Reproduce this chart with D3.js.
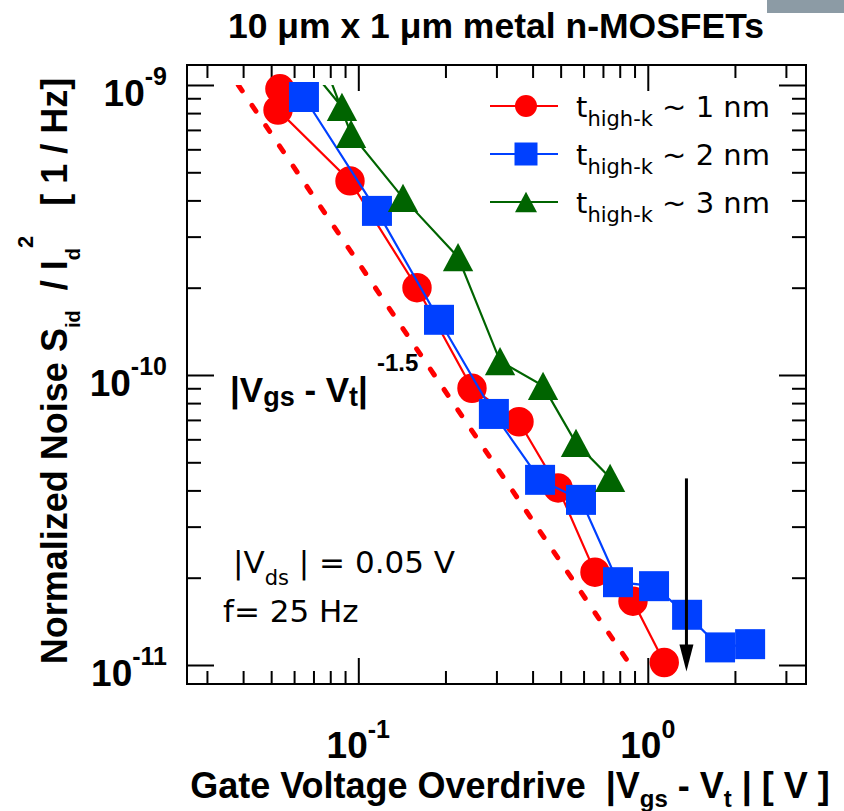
<!DOCTYPE html>
<html>
<head>
<meta charset="utf-8">
<script src="https://cdn.jsdelivr.net/npm/d3@7"></script>
<style>
  body { margin: 0; background: #fff; }
  text { white-space: pre; }
</style>
</head>
<body>
<div id="chart"></div>
<script>

// values (x = |Vgs - Vt| in V, y = Sid/Id^2 in 1/Hz)
var redX = [0.0536, 0.0528, 0.0936, 0.1595, 0.247, 0.359, 0.49, 0.657, 0.889, 1.14];
var redY = [9.7e-10, 8.2e-10, 4.67e-10, 2.0e-10, 9.0e-11, 6.9e-11, 4.08e-11, 2.09e-11, 1.66e-11, 1.02e-11];

var blueX = [0.0649, 0.116, 0.19, 0.294, 0.4245, 0.588, 0.789, 1.051, 1.367, 1.777, 2.257];
var blueY = [9.09e-10, 3.68e-10, 1.55e-10, 7.34e-11, 4.35e-11, 3.71e-11, 1.93e-11, 1.87e-11, 1.49e-11, 1.15e-11, 1.18e-11];

// two green points lie above 1e-9, only their line stubs show
var greenX = [0.0566, 0.0878, null, 0.0710, 0.0944, 0.1427, 0.2211, 0.3088, 0.4347, 0.565, 0.741];
var greenY = [1.43e-9, 8.4e-10, null, 1.43e-9, 6.78e-10, 4.08e-10, 2.55e-10, 1.117e-10, 9.17e-11, 5.83e-11, 4.42e-11];

var seriesNames = ['1 nm', '2 nm', '3 nm'];

// |Vgs - Vt|^-1.5 guide line and the arrow
var slopeX = [0.0385, 0.87];
var slopeY = [1e-9, 1e-11];
var arrowX = [1.36, 1.36];
var arrowY = [4.4e-11, 9.5e-12];

// axis ranges and ticks
var xDomain = [0.0256, 3.52];
var yDomain = [8.6e-12, 1.172e-9];
var xMajor = [0.1, 1];
var xMinor = [0.03, 0.04, 0.05, 0.06, 0.07, 0.08, 0.09, 0.2, 0.3, 0.4, 0.5, 0.6, 0.7, 0.8, 0.9, 2, 3];
var yMajor = [1e-11, 1e-10, 1e-9];
var yMinor = [2e-11, 3e-11, 4e-11, 5e-11, 6e-11, 7e-11, 8e-11, 9e-11,
              2e-10, 3e-10, 4e-10, 5e-10, 6e-10, 7e-10, 8e-10, 9e-10];
var xTickExp = ['-1', '0'];
var yTickExp = ['-11', '-10', '-9'];

var svgWidth = 844;
var svgHeight = 811;

var chartMargin = {
    top: 65,
    right: 38,
    bottom: 127,
    left: 187
};

var chartWidth = svgWidth - chartMargin.left - chartMargin.right;
var chartHeight = svgHeight - chartMargin.top - chartMargin.bottom;

var boldFont = '"Liberation Sans", Arial, Helvetica, sans-serif';
var plainFont = '"DejaVu Sans", sans-serif';

var svg = d3.select('#chart')
    .append('svg')
    .attr('width', svgWidth)
    .attr('height', svgHeight);

svg.append('rect')
    .attr('x', 767).attr('y', 0)
    .attr('width', 77).attr('height', 13)
    .attr('fill', '#8c9ba5');

var chartGroup = svg.append('g')
    .attr('transform', `translate(${chartMargin.left}, ${chartMargin.top})`);

var xScale = d3.scaleLog().domain(xDomain).range([0, chartWidth]);
var yScale = d3.scaleLog().domain(yDomain).range([chartHeight, 0]);

// clip regions
var defs = svg.append('defs');
defs.append('clipPath').attr('id', 'lineClip')
    .append('rect')
    .attr('x', 0).attr('y', yScale(1e-9))
    .attr('width', chartWidth).attr('height', chartHeight - yScale(1e-9));
defs.append('clipPath').attr('id', 'markClip')
    .append('rect')
    .attr('x', 0).attr('y', 0)
    .attr('width', chartWidth).attr('height', chartHeight);

// inward ticks on all four sides
function drawTicks(axis, values, size, shift) {
    chartGroup.append('g')
        .attr('transform', shift)
        .call(axis.tickValues(values).tickSize(-size).tickFormat(''))
        .call(g => g.select('.domain').remove())
        .selectAll('line')
        .attr('stroke', '#000')
        .attr('stroke-width', 2);
}

drawTicks(d3.axisBottom(xScale), xMajor, 26, `translate(0,${chartHeight})`);
drawTicks(d3.axisBottom(xScale), xMinor, 13, `translate(0,${chartHeight})`);
drawTicks(d3.axisTop(xScale), xMajor, 26, 'translate(0,0)');
drawTicks(d3.axisTop(xScale), xMinor, 13, 'translate(0,0)');
drawTicks(d3.axisLeft(yScale), yMajor, 27, 'translate(0,0)');
drawTicks(d3.axisLeft(yScale), yMinor, 14, 'translate(0,0)');
drawTicks(d3.axisRight(yScale), yMajor, 27, `translate(${chartWidth},0)`);
drawTicks(d3.axisRight(yScale), yMinor, 14, `translate(${chartWidth},0)`);

chartGroup.append('rect')
    .attr('width', chartWidth)
    .attr('height', chartHeight)
    .attr('fill', 'none')
    .attr('stroke', '#000')
    .attr('stroke-width', 2);

// tick labels 10^n
xMajor.forEach(function(v, i) {
    var t = chartGroup.append('text')
        .attr('x', xScale(v))
        .attr('y', chartHeight + 74)
        .attr('text-anchor', 'middle')
        .attr('font-family', boldFont)
        .attr('font-weight', 'bold')
        .attr('font-size', 37);
    t.append('tspan').text('10');
    t.append('tspan').attr('font-size', 25).attr('dy', -20).text(xTickExp[i]);
});

yMajor.forEach(function(v, i) {
    var t = chartGroup.append('text')
        .attr('x', -20)
        .attr('y', yScale(v) + 21)
        .attr('text-anchor', 'end')
        .attr('font-family', boldFont)
        .attr('font-weight', 'bold')
        .attr('font-size', 37);
    t.append('tspan').text('10');
    t.append('tspan').attr('font-size', 25).attr('dy', -21).text(yTickExp[i]);
});

// dashed power-law guide
var line = d3.line()
    .defined(d => d[1] != null)
    .x(d => xScale(d[0]))
    .y(d => yScale(d[1]));

chartGroup.append('path')
    .datum(d3.zip(slopeX, slopeY))
    .attr('clip-path', 'url(#lineClip)')
    .attr('d', line)
    .attr('fill', 'none')
    .attr('stroke', '#ff0000')
    .attr('stroke-width', 5)
    .attr('stroke-linecap', 'round')
    .attr('stroke-dasharray', '7,17.5');

// triangle centred on its bounding box
var boxTriangle = {
    draw: function(ctx, size) {
        var w = Math.sqrt(size);
        var h = w * 0.93;
        ctx.moveTo(0, -h / 2);
        ctx.lineTo(w / 2, h / 2);
        ctx.lineTo(-w / 2, h / 2);
        ctx.closePath();
    }
};

var series = [
    {x: redX, y: redY, color: '#ff0000', shape: d3.symbolCircle, size: 680, legSize: 380},
    {x: blueX, y: blueY, color: '#0040ff', shape: d3.symbolSquare, size: 900, legSize: 529},
    {x: greenX, y: greenY, color: '#006400', shape: boxTriangle, size: 920, legSize: 484}
];

series.forEach(function(s) {
    var pts = d3.zip(s.x, s.y);

    chartGroup.append('path')
        .datum(pts)
        .attr('clip-path', 'url(#lineClip)')
        .attr('d', line)
        .attr('fill', 'none')
        .attr('stroke', s.color)
        .attr('stroke-width', 2.2);

    chartGroup.append('g')
        .attr('clip-path', 'url(#markClip)')
        .selectAll('path')
        .data(pts.filter(d => d[1] != null))
        .enter()
        .append('path')
        .attr('transform', d => `translate(${xScale(d[0])},${yScale(d[1])})`)
        .attr('d', d3.symbol(s.shape, s.size))
        .attr('fill', s.color);
});

// arrow
chartGroup.append('line')
    .attr('x1', xScale(arrowX[0])).attr('y1', yScale(arrowY[0]))
    .attr('x2', xScale(arrowX[1])).attr('y2', yScale(arrowY[1]) - 20)
    .attr('stroke', '#000')
    .attr('stroke-width', 3);

var tipX = xScale(arrowX[1]);
var tipY = yScale(arrowY[1]);
chartGroup.append('path')
    .attr('d', `M${tipX},${tipY} L${tipX - 7},${tipY - 27} L${tipX + 7},${tipY - 27} Z`)
    .attr('fill', '#000');

// legend
var legend = svg.append('g').attr('transform', 'translate(490, 106)');
series.forEach(function(s, i) {
    var row = legend.append('g').attr('transform', `translate(0, ${i * 48})`);
    row.append('line')
        .attr('x1', 0).attr('x2', 68)
        .attr('stroke', s.color)
        .attr('stroke-width', 2.2);
    row.append('path')
        .attr('transform', 'translate(36, 0)')
        .attr('d', d3.symbol(s.shape, s.legSize))
        .attr('fill', s.color);
    var t = row.append('text')
        .attr('x', 86)
        .attr('y', 11)
        .attr('font-family', plainFont)
        .attr('font-size', 29);
    t.append('tspan').text('t');
    t.append('tspan').attr('font-size', 21).attr('dy', 9).text('high-k');
    t.append('tspan').attr('dy', -9).text(' ~ ' + seriesNames[i]);
});

// annotations
var ann = svg.append('text')
    .attr('x', 230).attr('y', 402)
    .attr('font-family', boldFont)
    .attr('font-weight', 'bold')
    .attr('font-size', 35);
ann.append('tspan').text('|V');
ann.append('tspan').attr('font-size', 27).attr('dy', 4).text('gs');
ann.append('tspan').attr('dy', -4).text(' - V');
ann.append('tspan').attr('font-size', 27).attr('dy', 4).text('t');
ann.append('tspan').attr('dy', -4).text('|');
ann.append('tspan').attr('font-size', 24).attr('dy', -31).attr('dx', 9).text('-1.5');

var vds = svg.append('text')
    .attr('x', 233).attr('y', 573)
    .attr('font-family', plainFont)
    .attr('font-size', 31);
vds.append('tspan').text('|V');
vds.append('tspan').attr('font-size', 21).attr('dy', 12).text('ds');
vds.append('tspan').attr('dy', -12).text(' | = 0.05 V');

svg.append('text')
    .attr('x', 223).attr('y', 622)
    .attr('font-family', plainFont)
    .attr('font-size', 31)
    .text('f= 25 Hz');

// titles
svg.append('text')
    .attr('x', 496).attr('y', 38)
    .attr('text-anchor', 'middle')
    .attr('font-family', boldFont)
    .attr('font-weight', 'bold')
    .attr('font-size', 35.5)
    .text('10 \u03bcm x 1 \u03bcm metal n-MOSFETs');

var xLab = svg.append('text')
    .attr('x', 510).attr('y', 798)
    .attr('text-anchor', 'middle')
    .attr('font-family', boldFont)
    .attr('font-weight', 'bold')
    .attr('font-size', 36);
xLab.append('tspan').text('Gate Voltage Overdrive  |V');
xLab.append('tspan').attr('font-size', 24).attr('dy', 9).text('gs');
xLab.append('tspan').attr('dy', -9).text(' - V');
xLab.append('tspan').attr('font-size', 24).attr('dy', 9).text('t');
xLab.append('tspan').attr('dy', -9).text(' | [ V ]');

var yLab = svg.append('text')
    .attr('transform', 'translate(67, 371) rotate(-90)')
    .attr('text-anchor', 'middle')
    .attr('font-family', boldFont)
    .attr('font-weight', 'bold')
    .attr('font-size', 36);
yLab.append('tspan').text('Normalized Noise S');
yLab.append('tspan').attr('font-size', 20).attr('dy', 13).text('id');
yLab.append('tspan').attr('dy', -13).text('  / I');
yLab.append('tspan').attr('font-size', 20).attr('dy', 13).text('d');
yLab.append('tspan').attr('font-size', 22).attr('dy', -47).text('2');
yLab.append('tspan').attr('dy', 34).text('   [ 1 / Hz]');

</script>
</body>
</html>
